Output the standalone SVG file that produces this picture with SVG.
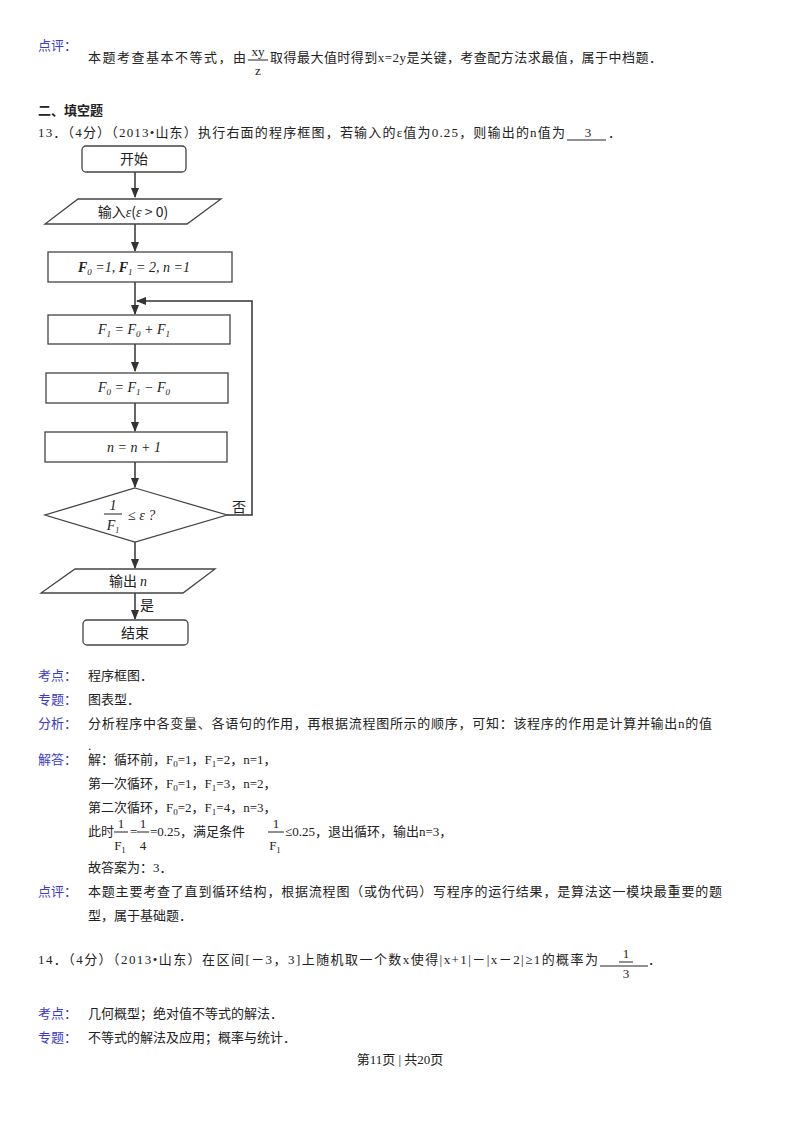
<svg xmlns="http://www.w3.org/2000/svg" width="800" height="1132" viewBox="0 0 800 1132">
<defs>
<marker id="ah" viewBox="0 0 10 10" refX="9" refY="5" markerWidth="7" markerHeight="7" orient="auto"><path d="M0,1 L10,5 L0,9 z" fill="#333"/></marker>
<style>
text{font-family:"Liberation Serif","Noto Sans CJK SC",serif;font-size:13px;fill:#222}
.lbl{fill:#3a3acc}
.b{font-weight:bold}
.shape{fill:#fff;stroke:#444;stroke-width:1.3}
.ln{stroke:#333;stroke-width:1.5;fill:none}
.m{font-family:"Liberation Serif",serif;font-style:italic;font-size:14px}
.c{text-anchor:middle}
</style>
</defs>
<rect width="800" height="1132" fill="#fff"/>

<text x="38" y="50" class="lbl">点评：</text>
<text x="88" y="62" textLength="158">本题考查基本不等式，由</text>
<text x="258" y="56" class="c">xy</text>
<line x1="248" y1="60" x2="268" y2="60" stroke="#222"/>
<text x="258" y="75" class="c">z</text>
<text x="270" y="62" textLength="392">取得最大值时得到x=2y是关键，考查配方法求最值，属于中档题．</text>
<text x="38" y="115" class="b">二、填空题</text>
<text x="38" y="137" textLength="527">13．（4分）（2013•山东）执行右面的程序框图，若输入的ε值为0.25，则输出的n值为</text>
<line x1="567" y1="140" x2="606" y2="140" stroke="#222"/>
<text x="588" y="137" class="c">3</text>
<text x="608" y="137">．</text>

<g id="connectors">
<line class="ln" x1="135" y1="172" x2="135" y2="197" marker-end="url(#ah)"/>
<line class="ln" x1="135" y1="224" x2="135" y2="251" marker-end="url(#ah)"/>
<line class="ln" x1="135" y1="282" x2="135" y2="314" marker-end="url(#ah)"/>
<line class="ln" x1="135" y1="344" x2="135" y2="371" marker-end="url(#ah)"/>
<line class="ln" x1="135" y1="403" x2="135" y2="431" marker-end="url(#ah)"/>
<line class="ln" x1="135" y1="462" x2="135" y2="487" marker-end="url(#ah)"/>
<line class="ln" x1="135" y1="542" x2="135" y2="568" marker-end="url(#ah)"/>
<line class="ln" x1="135" y1="593" x2="135" y2="619" marker-end="url(#ah)"/>
<polyline class="ln" points="227,515 252,515 252,301 137,301" marker-end="url(#ah)"/>
<text x="232" y="512" style="font-family:'Noto Sans CJK SC',sans-serif;font-size:14px">否</text>
<text x="140" y="610" style="font-family:'Noto Sans CJK SC',sans-serif;font-size:14px">是</text>
</g>

<g id="start"><rect class="shape" x="82" y="146" width="104" height="26" rx="4"/><text x="134" y="164" class="c" style="font-family:'Noto Sans CJK SC',sans-serif;font-size:14px">开始</text></g>
<g id="input"><polygon class="shape" points="78,199 221,199 187,224 45,224"/><text x="133" y="217" class="c" style="font-family:'Noto Sans CJK SC',sans-serif;font-size:14px">输入<tspan class="m">ε</tspan>(<tspan class="m">ε</tspan> &gt; 0)</text></g>
<g id="init"><rect class="shape" x="48" y="252" width="184" height="30"/><text x="134" y="272" class="c m"><tspan class="b">F</tspan><tspan font-size="9" dy="3">0</tspan><tspan dy="-3"> =1, </tspan><tspan class="b">F</tspan><tspan font-size="9" dy="3">1</tspan><tspan dy="-3"> = 2, n =1</tspan></text></g>
<g id="f1"><rect class="shape" x="48" y="315" width="182" height="29"/><text x="134" y="334" class="c m">F<tspan font-size="9" dy="3">1</tspan><tspan dy="-3"> = F</tspan><tspan font-size="9" dy="3">0</tspan><tspan dy="-3"> + F</tspan><tspan font-size="9" dy="3">1</tspan></text></g>
<g id="f0"><rect class="shape" x="46" y="373" width="182" height="30"/><text x="134" y="392" class="c m">F<tspan font-size="9" dy="3">0</tspan><tspan dy="-3"> = F</tspan><tspan font-size="9" dy="3">1</tspan><tspan dy="-3"> − F</tspan><tspan font-size="9" dy="3">0</tspan></text></g>
<g id="inc"><rect class="shape" x="45" y="432" width="182" height="30"/><text x="134" y="452" class="c m">n = n + 1</text></g>
<g id="cond"><polygon class="shape" points="135,488 227,515 135,542 45,515"/>
<text x="113" y="510" class="c m">1</text><line x1="104" y1="514" x2="122" y2="514" stroke="#222"/><text x="113" y="530" class="c m">F<tspan font-size="8" dy="3">1</tspan></text>
<text x="128" y="520" class="m">≤ ε ?</text></g>
<g id="output"><polygon class="shape" points="75,569 215,569 183,593 41,593"/><text x="128" y="586" class="c" style="font-family:'Noto Sans CJK SC',sans-serif;font-size:14px">输出 <tspan class="m">n</tspan></text></g>
<g id="end"><rect class="shape" x="83" y="620" width="105" height="25" rx="4"/><text x="135" y="638" class="c" style="font-family:'Noto Sans CJK SC',sans-serif;font-size:14px">结束</text></g>

<text x="38" y="680" class="lbl">考点：</text><text x="88" y="680">程序框图．</text>
<text x="38" y="704" class="lbl">专题：</text><text x="88" y="704">图表型．</text>
<text x="38" y="728" class="lbl">分析：</text><text x="88" y="728" textLength="624">分析程序中各变量、各语句的作用，再根据流程图所示的顺序，可知：该程序的作用是计算并输出n的值</text>
<text x="88" y="750">.</text>
<text x="38" y="764" class="lbl">解答：</text><text x="88" y="764">解：循环前，F<tspan font-size="9" dy="3">0</tspan><tspan dy="-3">=1，F</tspan><tspan font-size="9" dy="3">1</tspan><tspan dy="-3">=2，n=1，</tspan></text>
<text x="88" y="788">第一次循环，F<tspan font-size="9" dy="3">0</tspan><tspan dy="-3">=1，F</tspan><tspan font-size="9" dy="3">1</tspan><tspan dy="-3">=3，n=2，</tspan></text>
<text x="88" y="812">第二次循环，F<tspan font-size="9" dy="3">0</tspan><tspan dy="-3">=2，F</tspan><tspan font-size="9" dy="3">1</tspan><tspan dy="-3">=4，n=3，</tspan></text>
<text x="88" y="836">此时</text>
<text x="121" y="828" class="c">1</text><line x1="114" y1="832" x2="128" y2="832" stroke="#222"/><text x="120" y="850" class="c">F<tspan font-size="9" dy="3">1</tspan></text>
<text x="130" y="836">=</text>
<text x="143" y="828" class="c">1</text><line x1="137" y1="832" x2="149" y2="832" stroke="#222"/><text x="143" y="850" class="c">4</text>
<text x="150" y="836">=0.25，满足条件</text>
<text x="276" y="828" class="c">1</text><line x1="268" y1="832" x2="284" y2="832" stroke="#222"/><text x="275" y="850" class="c">F<tspan font-size="9" dy="3">1</tspan></text>
<text x="285" y="836">≤0.25，退出循环，输出n=3，</text>
<text x="88" y="872">故答案为：3．</text>
<text x="38" y="896" class="lbl">点评：</text><text x="88" y="896" textLength="634">本题主要考查了直到循环结构，根据流程图（或伪代码）写程序的运行结果，是算法这一模块最重要的题</text>
<text x="88" y="920">型，属于基础题．</text>

<text x="38" y="964" textLength="560">14．（4分）（2013•山东）在区间[－3，3]上随机取一个数x使得|x+1|－|x－2|≥1的概率为</text>
<line x1="600" y1="966" x2="648" y2="966" stroke="#222"/>
<text x="626" y="958" class="c" font-size="16">1</text><line x1="619" y1="962" x2="633" y2="962" stroke="#222"/><text x="626" y="978" class="c">3</text>
<text x="648" y="964">．</text>
<text x="38" y="1018" class="lbl">考点：</text><text x="88" y="1018">几何概型；绝对值不等式的解法．</text>
<text x="38" y="1042" class="lbl">专题：</text><text x="88" y="1042">不等式的解法及应用；概率与统计．</text>
<text x="400" y="1064" class="c">第11页 | 共20页</text>
</svg>
